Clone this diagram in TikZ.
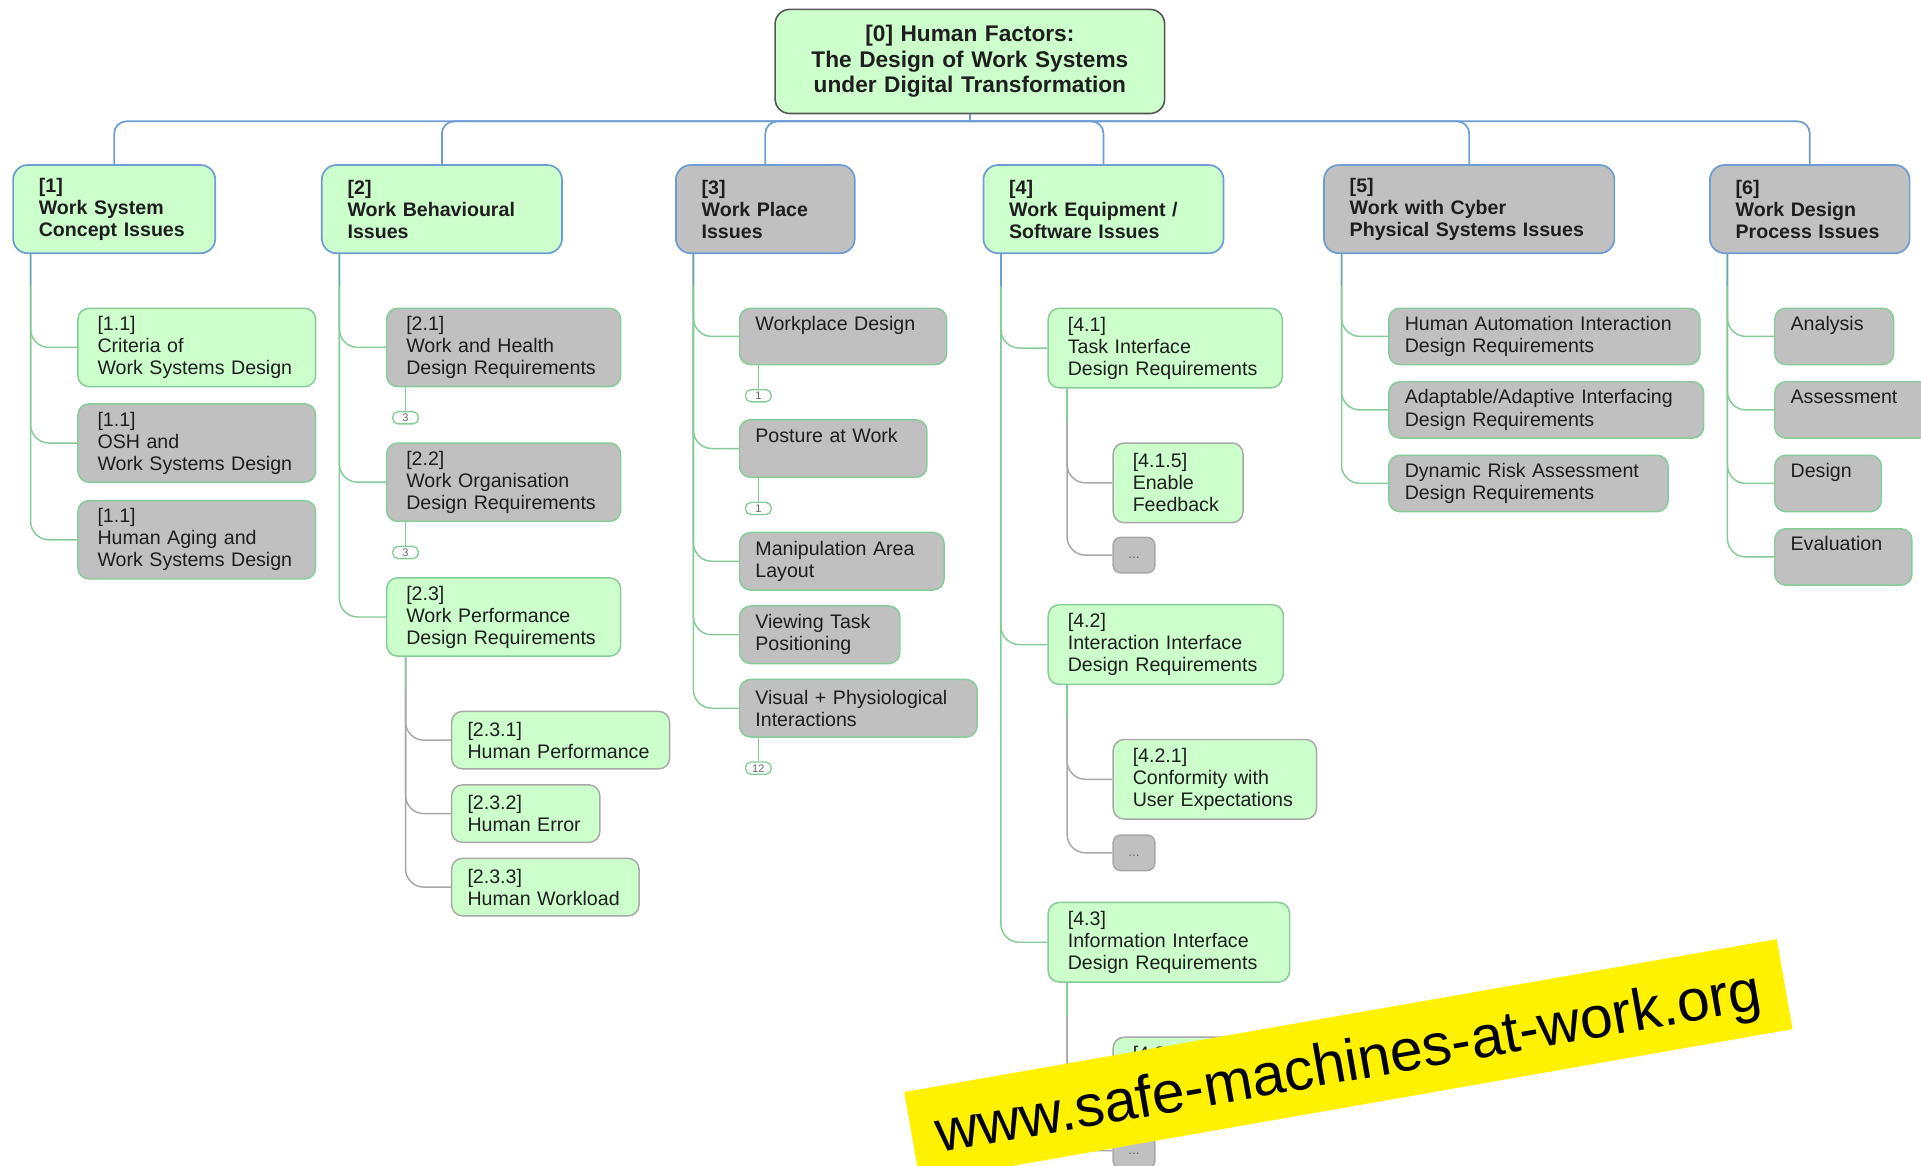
\documentclass[tikz,border=0pt]{standalone}
\usepackage{fontspec}
\setmainfont{Liberation Sans}
\definecolor{leaf}{HTML}{CCFFCC}
\definecolor{stone}{HTML}{C0C0C0}
\definecolor{skyline}{HTML}{6E9CD4}
\definecolor{mintline}{HTML}{86CC98}
\definecolor{ashline}{HTML}{A8A8A8}
\definecolor{rootline}{HTML}{555555}
\definecolor{ink}{HTML}{1E1E1E}
\definecolor{dotink}{HTML}{666666}
\begin{document}
\begin{tikzpicture}[x=1pt,y=-1pt,
  rootbox/.style={draw=rootline, fill=leaf, line width=1.3pt, rounded corners=12pt,
    align=center, inner xsep=0pt, inner ysep=0pt, text=ink, anchor=north west,
    font=\bfseries\fontsize{18.5}{21}\selectfont},
  topic/.style={draw=skyline, line width=1.4pt, rounded corners=12pt, align=left,
    inner xsep=21pt, inner ysep=0pt, minimum height=72pt, text=ink, anchor=north west,
    font=\bfseries\fontsize{16}{18}\selectfont},
  sub/.style={draw=mintline, line width=1.2pt, rounded corners=9pt, align=left,
    inner xsep=16pt, inner ysep=0pt, text=ink, anchor=north west,
    font=\fontsize{16}{18}\selectfont},
  subsub/.style={sub, draw=ashline},
  narrow/.style={inner xsep=13pt},
  lf/.style={fill=leaf},
  sf/.style={fill=stone},
  more/.style={draw=ashline, fill=stone, line width=1.2pt, rounded corners=6pt,
    minimum width=34pt, minimum height=29pt, inner sep=0pt, text=dotink, anchor=north west,
    text height=6pt, text depth=0pt, font=\fontsize{11}{11}\selectfont},
  badge/.style={draw=mintline, fill=white, line width=1.1pt, rounded corners=4.5pt,
    minimum width=21pt, minimum height=10pt, inner sep=0pt, text=dotink,
    font=\fontsize{9}{9}\selectfont},
  busline/.style={draw=skyline, line width=1.4pt},
  mintlink/.style={draw=mintline, line width=1.2pt, rounded corners=15pt},
  ashlink/.style={draw=ashline, line width=1.2pt, rounded corners=15pt},
  banner/.style={fill=yellow, rotate=9.94, minimum width=723pt, minimum height=74.6pt,
    inner sep=0pt, text height=43.4pt, text depth=10pt, text=black,
    font=\fontsize{48}{48}\selectfont},
]
\useasboundingbox (0,0) rectangle (1568,951);

% root
\node[rootbox, text width=318pt, minimum height=85pt] (root) at (632,7)
  {[0] Human Factors:\\The Design of Work Systems\\under Digital Transformation};

% main topics
\node[topic, lf, text width=123pt] (n1) at (10,134)   {[1]\\Work System\\Concept Issues};
\node[topic, lf, text width=154pt] (n2) at (262,134)  {[2]\\Work Behavioural\\Issues};
\node[topic, sf, text width=104pt] (n3) at (551,134)  {[3]\\Work Place\\Issues};
\node[topic, lf, text width=154pt] (n4) at (802,134)  {[4]\\Work Equipment /\\Software Issues};
\node[topic, sf, text width=195pt] (n5) at (1080,134) {[5]\\Work with Cyber\\Physical Systems Issues};
\node[topic, sf, text width=121pt] (n6) at (1395,134) {[6]\\Work Design\\Process Issues};

% bus from the root to the topics
\coordinate (bus) at (0,99);
\draw[busline] (root.south) -- (root.south |- bus);
\foreach \t in {n1,n2,n3,n4,n5,n6}
  \draw[busline, rounded corners=10pt] (root.south |- bus) -| (\t.north);

% [1]
\node[sub, lf, text width=162pt, minimum height=64pt] (n11) at (63,251) {[1.1]\\Criteria of\\Work Systems Design};
\node[sub, sf, text width=162pt, minimum height=64pt] (n12) at (63,329) {[1.1]\\OSH and\\Work Systems Design};
\node[sub, sf, text width=162pt, minimum height=64pt] (n13) at (63,408) {[1.1]\\Human Aging and\\Work Systems Design};

% [2]
\node[sub, sf, text width=159pt, minimum height=64pt] (n21) at (315,251) {[2.1]\\Work and Health\\Design Requirements};
\node[sub, sf, text width=159pt, minimum height=64pt] (n22) at (315,361) {[2.2]\\Work Organisation\\Design Requirements};
\node[sub, lf, text width=159pt, minimum height=64pt] (n23) at (315,471) {[2.3]\\Work Performance\\Design Requirements};
\node[badge] (b21) at (331,341) {3};
\node[badge] (b22) at (331,451) {3};
\node[subsub, lf, narrow, text width=152pt, minimum height=47pt] (n231) at (368,580) {[2.3.1]\\Human Performance};
\node[subsub, lf, narrow, text width=95pt,  minimum height=47pt] (n232) at (368,640) {[2.3.2]\\Human Error};
\node[subsub, lf, narrow, text width=127pt, minimum height=47pt] (n233) at (368,700) {[2.3.3]\\Human Workload};

% [3]
\node[sub, sf, narrow, text width=143pt, minimum height=46pt] (n31) at (603,251) {Workplace Design\\\phantom{Xg}};
\node[sub, sf, narrow, text width=127pt, minimum height=47pt] (n32) at (603,342) {Posture at Work\\\phantom{Xg}};
\node[sub, sf, narrow, text width=141pt, minimum height=47pt] (n33) at (603,434) {Manipulation Area\\Layout};
\node[sub, sf, narrow, text width=105pt, minimum height=47pt] (n34) at (603,494) {Viewing Task\\Positioning};
\node[sub, sf, narrow, text width=168pt, minimum height=47pt] (n35) at (603,554) {Visual + Physiological\\Interactions};
\node[badge] (b31) at (619,323) {1};
\node[badge] (b32) at (619,415) {1};
\node[badge] (b35) at (619,627) {12};

% [4]
\node[sub, lf, text width=159pt, minimum height=65pt] (n41) at (855,251) {[4.1]\\Task Interface\\Design Requirements};
\node[subsub, lf, text width=74pt, minimum height=65pt] (n415) at (908,361) {[4.1.5]\\Enable\\Feedback};
\node[more] (n41d) at (908,438) {...};
\node[sub, lf, text width=160pt, minimum height=65pt] (n42) at (855,493) {[4.2]\\Interaction Interface\\Design Requirements};
\node[subsub, lf, text width=134pt, minimum height=65pt] (n421) at (908,603) {[4.2.1]\\Conformity with\\User Expectations};
\node[more] (n42d) at (908,681) {...};
\node[sub, lf, text width=165pt, minimum height=65pt] (n43) at (855,736) {[4.3]\\Information Interface\\Design Requirements};
\node[subsub, lf, text width=73pt, minimum height=65pt] (n435) at (908,846) {[4.3.5]\\\phantom{Xg}\\\phantom{Xg}};
\node[more] (n43d) at (908,924) {...};

% [5]
\node[sub, sf, narrow, text width=228pt, minimum height=46pt] (n51) at (1133,251) {Human Automation Interaction\\Design Requirements};
\node[sub, sf, narrow, text width=231pt, minimum height=46pt] (n52) at (1133,311) {Adaptable/Adaptive Interfacing\\Design Requirements};
\node[sub, sf, narrow, text width=202pt, minimum height=46pt] (n53) at (1133,371) {Dynamic Risk Assessment\\Design Requirements};

% [6]
\node[sub, sf, narrow, text width=71pt,  minimum height=46pt] (n61) at (1448,251) {Analysis\\\phantom{Xg}};
\node[sub, sf, narrow, text width=101pt, minimum height=46pt] (n62) at (1448,311) {Assessment\\\phantom{Xg}};
\node[sub, sf, narrow, text width=61pt,  minimum height=46pt] (n63) at (1448,371) {Design\\\phantom{Xg}};
\node[sub, sf, narrow, text width=86pt,  minimum height=46pt] (n64) at (1448,431) {Evaluation\\\phantom{Xg}};

% topic trunks to their sub-topics
\foreach \p/\c in {n1/n11,n1/n12,n1/n13, n2/n21,n2/n22,n2/n23,
                   n3/n31,n3/n32,n3/n33,n3/n34,n3/n35, n4/n41,n4/n42,n4/n43,
                   n5/n51,n5/n52,n5/n53, n6/n61,n6/n62,n6/n63,n6/n64}
  \draw[mintlink] ([xshift=15pt]\p.south west) |- (\c.west);
\foreach \p in {n1,n2,n3,n4,n5,n6}
  \draw[busline] ([xshift=15pt]\p.south west) -- ++(0,26);

% sub-topic trunks to their details
\foreach \p/\c in {n23/n231,n23/n232,n23/n233, n41/n415,n41/n41d,
                   n42/n421,n42/n42d, n43/n435,n43/n43d}
  \draw[ashlink] ([xshift=16pt]\p.south west) |- (\c.west);
\foreach \p in {n23,n41,n42,n43}
  \draw[mintlink] ([xshift=16pt]\p.south west) -- ++(0,27);

% collapsed-branch counters
\foreach \p/\b in {n21/b21, n22/b22, n31/b31, n32/b32, n35/b35}
  \draw[mintlink] ([xshift=16pt]\p.south west) -- (\b.north);

% web address strip
\node[banner] (url) at (1100.6,865.7) {www.safe-machines-at-work.org};
\end{tikzpicture}
\end{document}
